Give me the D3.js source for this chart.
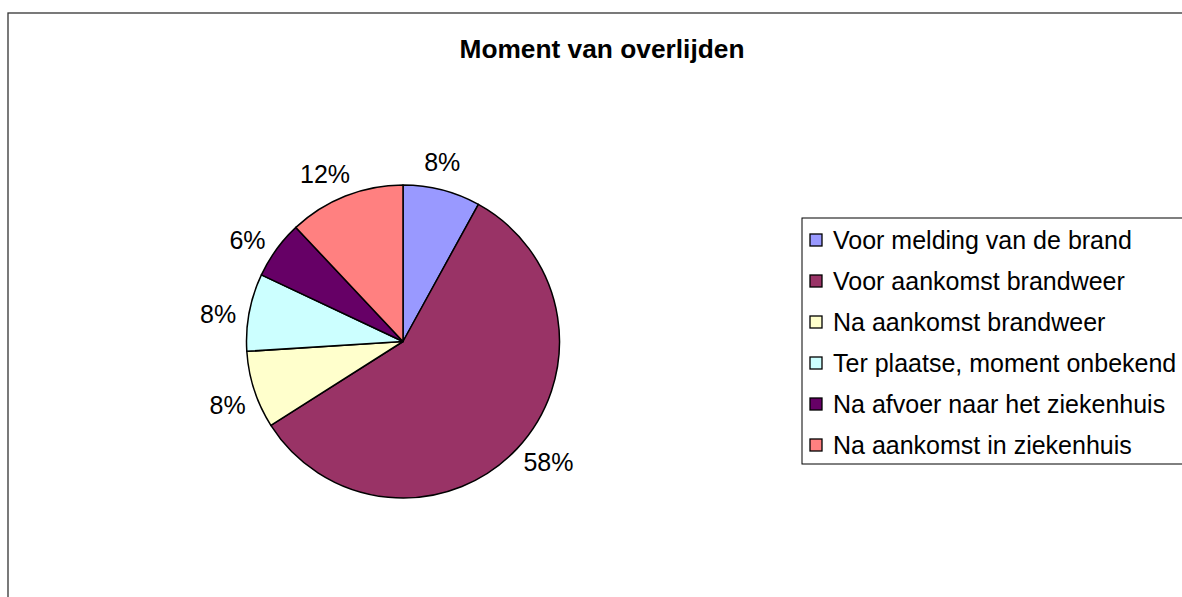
<!DOCTYPE html>
<html>
<head>
<meta charset="utf-8">
<script src="https://cdn.jsdelivr.net/npm/d3@7"></script>
<style>
  body { margin: 0; background: #fff; }
  text { font-family: "Liberation Sans", Arial, sans-serif; }
</style>
</head>
<body>
<svg class="chart"></svg>
<script>
// Données -------------------------------------------------
let categories = [
  "Voor melding van de brand",
  "Voor aankomst brandweer",
  "Na aankomst brandweer",
  "Ter plaatse, moment onbekend",
  "Na afvoer naar het ziekenhuis",
  "Na aankomst in ziekenhuis"
];
let valeurs = [4, 29, 4, 4, 3, 6];
let couleurs = ["#9999FF", "#993366", "#FFFFCC", "#CCFFFF", "#660066", "#FF8080"];
let titre = "Moment van overlijden";

// Dimensions ----------------------------------------------
let w = 1182;
let h = 597;

let svg = d3.select(".chart")
  .attr("width", w)
  .attr("height", h);

// cadre du graphique
svg.append("rect")
  .attr("x", 8)
  .attr("y", 13)
  .attr("width", 1200)
  .attr("height", 620)
  .attr("fill", "#fff")
  .attr("stroke", "#333")
  .attr("stroke-width", 1.3);

svg.append("text")
  .attr("x", 602)
  .attr("y", 58)
  .attr("text-anchor", "middle")
  .attr("font-size", 26.3)
  .attr("font-weight", "bold")
  .text(titre);

// Camembert -----------------------------------------------
let cx = 403, cy = 341.5, r = 156.5;
let total = d3.sum(valeurs);

let pie = d3.pie().sort(null).value(function(d) { return d; });
let arc = d3.arc().innerRadius(0).outerRadius(r);
let arcs = pie(valeurs);

let g = svg.append("g")
  .attr("transform", "translate(" + cx + "," + cy + ")");

g.selectAll("path")
  .data(arcs)
  .enter().append("path")
  .attr("d", arc)
  .attr("fill", function(d, i) { return couleurs[i]; })
  .attr("stroke", "#000")
  .attr("stroke-width", 1.5)
  .attr("stroke-linejoin", "round");

// étiquettes à l'extérieur (légèrement décalées dans le sens anti-horaire)
let fmt = d3.format(".0%");
let fs = 25;
g.selectAll(".lab")
  .data(arcs)
  .enter().append("text")
  .attr("class", "lab")
  .attr("font-size", fs)
  .attr("text-anchor", "middle")
  .attr("dominant-baseline", "central")
  .text(function(d) { return fmt(d.data / total); })
  .each(function(d) {
    let a = (d.startAngle + d.endAngle) / 2 - 0.04;
    let box = this.getBBox();
    let rr = r + 16;
    let x = Math.sin(a) * rr + Math.sin(a) * box.width / 2 * 0.8;
    let y = -Math.cos(a) * rr - Math.cos(a) * box.height / 2 * 0.8;
    d3.select(this).attr("x", x).attr("y", y);
  });

// Légende -------------------------------------------------
let lx = 802, ly = 218, pas = 41;
svg.append("rect")
  .attr("x", lx)
  .attr("y", ly)
  .attr("width", 420)
  .attr("height", 246)
  .attr("fill", "#fff")
  .attr("stroke", "#000")
  .attr("stroke-width", 1);

let items = svg.selectAll(".leg")
  .data(categories)
  .enter().append("g")
  .attr("class", "leg")
  .attr("transform", function(d, i) { return "translate(" + lx + "," + (ly + 22 + i * pas) + ")"; });

items.append("rect")
  .attr("x", 8)
  .attr("y", -6)
  .attr("width", 12)
  .attr("height", 12)
  .attr("fill", function(d, i) { return couleurs[i]; })
  .attr("stroke", "#000")
  .attr("stroke-width", 1.3);

items.append("text")
  .attr("x", 31)
  .attr("y", 0)
  .attr("dy", "0.35em")
  .attr("font-size", fs)
  .text(function(d) { return d; });
</script>
</body>
</html>
